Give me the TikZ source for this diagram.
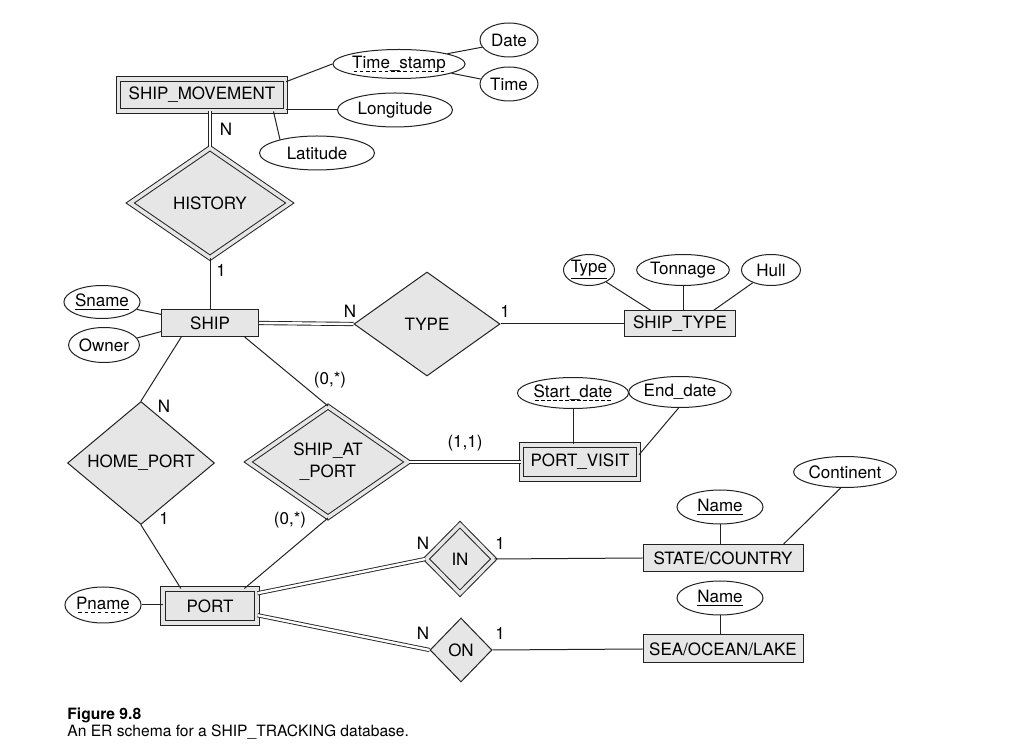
\documentclass[tikz,border=0pt]{standalone}
\usepackage{fontspec}
\setmainfont{TeX Gyre Heros}
\usetikzlibrary{shapes.geometric, calc}
\definecolor{ERFill}{HTML}{E6E6E6}
\definecolor{ERLine}{HTML}{222222}
% dashed underline for partial keys
\newcommand{\dashedkey}[1]{\setbox0\hbox{#1}\leavevmode\rlap{\lower1.6pt\hbox to \wd0{\xleaders\hbox to 3pt{\hfil\vrule width 1.8pt height 0.4pt\hfil}\hfill}}\box0}

\begin{document}
\begin{tikzpicture}[
    x=0.5pt, y=-0.5pt,
    % Reusable styles for entities, relationships and attributes
    every node/.style={font=\fontsize{8.5}{11}\selectfont, text=black},
    entity/.style={rectangle, fill=ERFill, draw=ERLine, line width=0.5pt, inner sep=0pt},
    weak entity/.style={entity, double=ERFill, double distance=1.6pt},
    relation/.style={diamond, fill=ERFill, draw=ERLine, line width=0.5pt, inner sep=0pt},
    ident relation/.style={relation, double=ERFill, double distance=1.8pt},
    attribute/.style={ellipse, fill=white, draw=ERLine, line width=0.5pt, inner sep=0pt},
    link/.style={draw=ERLine, line width=0.5pt},
    total link/.style={draw=ERLine, line width=0.45pt, double=white, double distance=1.2pt},
    card/.style={inner sep=1pt},
    caption text/.style={font=\fontsize{7.8}{9}\selectfont, anchor=base west, inner sep=0pt}
]
    \useasboundingbox (0,0) rectangle (1024,753);

    % -------------------------
    % Entities
    % -------------------------
    \node[weak entity, minimum width=83.5pt, minimum height=16pt] (shipmove) at (202,95) {SHIP\_MOVEMENT};
    \node[entity, minimum width=48.5pt, minimum height=13.5pt] (ship) at (210,323) {SHIP};
    \node[entity, minimum width=55.5pt, minimum height=13pt] (shiptype) at (680,324) {SHIP\_TYPE};
    \node[weak entity, minimum width=58.5pt, minimum height=17pt] (portvisit) at (580,462) {PORT\_VISIT};
    \node[weak entity, minimum width=47pt, minimum height=17pt] (port) at (210,606) {PORT};
    \node[entity, minimum width=80pt, minimum height=13.5pt] (statecountry) at (723,558) {STATE/COUNTRY};
    \node[entity, minimum width=80pt, minimum height=14pt] (sealake) at (723,649) {SEA/OCEAN/LAKE};

    % -------------------------
    % Relationships
    % -------------------------
    \node[ident relation, minimum width=80pt, minimum height=55pt] (history) at (210,203) {HISTORY};
    \node[relation, minimum width=73pt, minimum height=52pt] (typerel) at (427,324) {TYPE};
    \node[relation, minimum width=73.5pt, minimum height=51pt] (homeport) at (141,463) {HOME\_PORT};
    \node[ident relation, minimum width=80pt, minimum height=55.5pt, align=center] (shipatport) at (328,462) {SHIP\_AT\\\_PORT};
    \node[ident relation, minimum width=34pt, minimum height=34.5pt] (inrel) at (460,559) {IN};
    \node[relation, minimum width=31pt, minimum height=32pt] (onrel) at (461,650) {ON};

    % -------------------------
    % Attributes
    % -------------------------
    \node[attribute, minimum width=62.5pt, minimum height=14.5pt] (timestamp) at (399,64) {\dashedkey{Time\_stamp}};
    \node[attribute, minimum width=29pt, minimum height=17pt] (date) at (509,40) {Date};
    \node[attribute, minimum width=29pt, minimum height=17pt] (time) at (509,84) {Time};
    \node[attribute, minimum width=57.5pt, minimum height=17pt] (longitude) at (395,110) {Longitude};
    \node[attribute, minimum width=57.5pt, minimum height=17pt] (latitude) at (317,153) {Latitude};
    \node[attribute, minimum width=34.5pt, minimum height=16.5pt] (sname) at (102,302) {\underline{Sname}};
    \node[attribute, minimum width=32pt, minimum height=17.5pt] (owner) at (104,345) {Owner};
    \node[attribute, minimum width=24pt, minimum height=15.5pt] (typeattr) at (589,270) {\underline{Type}};
    \node[attribute, minimum width=43.5pt, minimum height=15.5pt] (tonnage) at (683,270) {Tonnage};
    \node[attribute, minimum width=29.5pt, minimum height=15.5pt] (hull) at (771,270) {Hull};
    \node[attribute, minimum width=55pt, minimum height=15.5pt] (startdate) at (573,393) {\dashedkey{Start\_date}};
    \node[attribute, minimum width=43pt, minimum height=15.5pt] (enddate) at (680,392) {End\_date};
    \node[attribute, minimum width=41pt, minimum height=15.5pt] (continent) at (845,472) {Continent};
    \node[attribute, minimum width=43pt, minimum height=17pt] (namestate) at (720,507) {\underline{Name}};
    \node[attribute, minimum width=43pt, minimum height=17pt] (namesea) at (720,598) {\underline{Name}};
    \node[attribute, minimum width=34pt, minimum height=18pt] (pname) at (103,605) {\dashedkey{Pname}};

    % -------------------------
    % Attribute links
    % -------------------------
    \draw[link] (shipmove.9) -- (timestamp.west);
    \draw[link] (longitude.west -| shipmove.east) -- (longitude.west);
    \draw[link] (shipmove.-13) -- (latitude.160);
    \draw[link] (timestamp.12) -- (date.195);
    \draw[link] (timestamp.-10) -- (time.170);
    \draw[link] (sname.-12) -- (ship.170);
    \draw[link] (owner.12) -- (ship.190);
    \draw[link] (typeattr.-35) -- (shiptype.155);
    \draw[link] (tonnage.south) -- (tonnage.south |- shiptype.north);
    \draw[link] (hull.215) -- (shiptype.22);
    \draw[link] (startdate.south) -- (startdate.south |- portvisit.north);
    \draw[link] (enddate.265) -- (portvisit.7);
    \draw[link] (namestate.south) -- (namestate.south |- statecountry.north);
    \draw[link] (continent.255) -- (statecountry.13);
    \draw[link] (namesea.south) -- (namesea.south |- sealake.north);
    \draw[link] (pname.east) -- (pname.east -| port.west);

    % -------------------------
    % Relationship links
    % -------------------------
    \draw[total link] (history.north) -- (history.north |- shipmove.south);
    \draw[link] (history.south) -- (ship.north);
    \draw[total link] (ship.east) -- (typerel.west);
    \draw[link] (typerel.east) -- (shiptype.west);
    \draw[link] (ship.206) -- (homeport.north);
    \draw[link] (homeport.south) -- (port.149);
    \draw[link] (ship.-22) -- (shipatport.north);
    \draw[link] (shipatport.south) -- (port.27);
    \draw[total link] (shipatport.east) -- (portvisit.west);
    \draw[total link] (port.15) -- (inrel.west);
    \draw[total link] (port.-11) -- (onrel.west);
    \draw[link] (inrel.east) -- (statecountry.west);
    \draw[link] (onrel.east) -- (sealake.west);

    % Cardinality labels
    \node[card] (cHistN) at (226,129) {N};
    \node[card] (cHist1) at (221,270) {1};
    \node[card] (cTypeN) at (350,311) {N};
    \node[card] (cType1) at (505,311) {1};
    \node[card] (cHomeN) at (164,406) {N};
    \node[card] (cHome1) at (164,518) {1};
    \node[card] (cAtShip) at (330,380) {(0,*)};
    \node[card] (cAtPort) at (290,520) {(0,*)};
    \node[card] (cAtVisit) at (465,443) {(1,1)};
    \node[card] (cInN) at (423,543) {N};
    \node[card] (cIn1) at (500,543) {1};
    \node[card] (cOnN) at (423,633) {N};
    \node[card] (cOn1) at (500,633) {1};

    % Figure caption
    \node[caption text, font=\fontsize{7.8}{9}\selectfont\bfseries] (figlabel) at (67,719) {Figure 9.8};
    \node[caption text] (figtext) at (67,737) {An ER schema for a SHIP\_TRACKING database.};

\end{tikzpicture}
\end{document}
